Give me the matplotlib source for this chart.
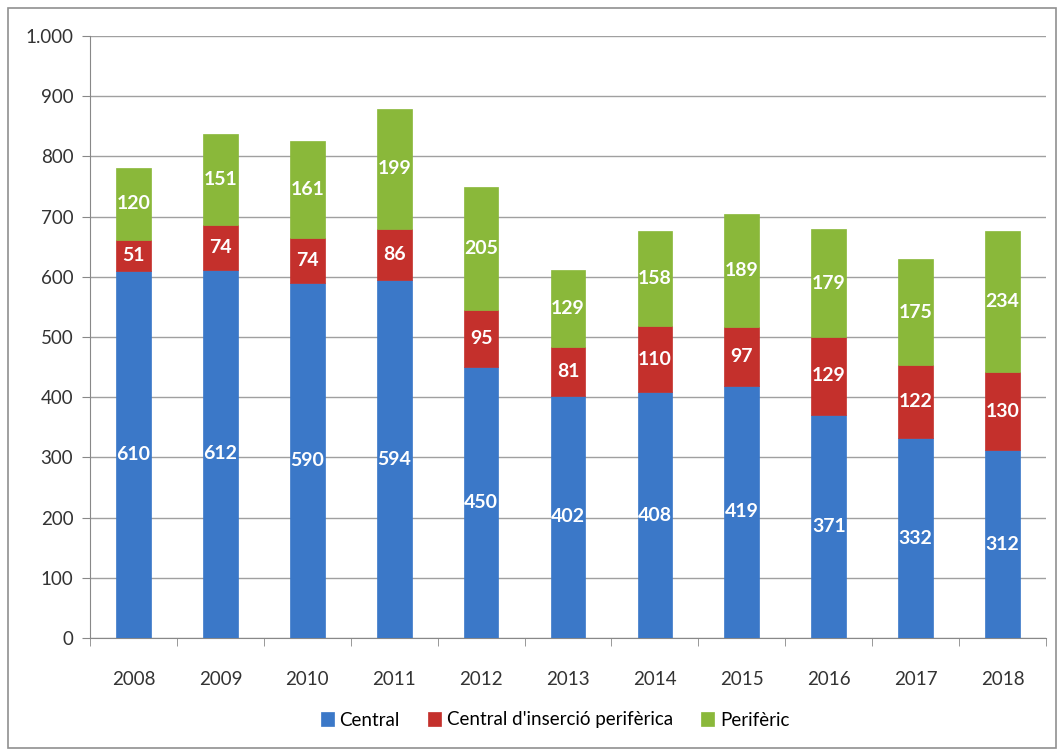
import matplotlib
matplotlib.use("Agg")
import matplotlib.pyplot as plt
from matplotlib.patches import Rectangle
from matplotlib.ticker import FuncFormatter, FixedLocator
import numpy as np

years = ["2008", "2009", "2010", "2011", "2012", "2013", "2014", "2015", "2016", "2017", "2018"]
central = [610, 612, 590, 594, 450, 402, 408, 419, 371, 332, 312]
central_ins = [51, 74, 74, 86, 95, 81, 110, 97, 129, 122, 130]
periferic = [120, 151, 161, 199, 205, 129, 158, 189, 179, 175, 234]
series_names = ["Central", "Central d'inserció perifèrica", "Perifèric"]
colors = ["#3b78c8", "#c4302c", "#8ab83a"]

plt.rcParams['font.family'] = ['Lato', 'DejaVu Sans']

fig = plt.figure(figsize=(10.64, 7.56), dpi=100)
ax = fig.add_axes([90/1064, 1-638/756, (1046-90)/1064, (638-36)/756])

x = np.arange(len(years))
w = 0.40
bottom = np.zeros(len(years))
for vals, name, c in zip([central, central_ins, periferic], series_names, colors):
    ax.bar(x, vals, w, bottom=bottom, color=c, label=name,
           edgecolor=c, linewidth=0.5, zorder=3)
    for xi, b, v in zip(x, bottom, vals):
        ax.text(xi, b + v/2, str(v), ha='center', va='center', color='white',
                fontsize=14, fontweight='bold', zorder=4)
    bottom += np.array(vals)

ax.set_xlim(-0.5, len(years) - 0.5)
ax.set_ylim(0, 1000)
ax.set_yticks(np.arange(0, 1001, 100))
ax.yaxis.set_major_formatter(FuncFormatter(lambda v, p: f"{int(v):,}".replace(",", ".")))
ax.grid(axis='y', color='#a0a0a0', linewidth=1, zorder=0)
ax.set_xticks(x)
ax.set_xticklabels(years)
ax.xaxis.set_minor_locator(FixedLocator(np.arange(-0.5, len(years), 1)))
ax.tick_params(axis='x', which='major', length=0, pad=24, labelsize=13.5, colors='#333333')
ax.tick_params(axis='x', which='minor', length=6, color='#888888')
ax.tick_params(axis='y', length=6, color='#888888', labelsize=13.5, colors='#333333', pad=6)
for s in ['top', 'right']:
    ax.spines[s].set_visible(False)
ax.spines['left'].set_color('#888888')
ax.spines['bottom'].set_color('#888888')

fig.legend(loc='center', bbox_to_anchor=(555/1064, 1-720/756), ncol=3, frameon=False,
           fontsize=13.5, handlelength=0.7, handleheight=0.7, handletextpad=0.3, columnspacing=1.5)

fig.patches.append(Rectangle((8/1064, 8/756), 1048/1064, 740/756, transform=fig.transFigure,
                             fill=False, edgecolor='#909090', linewidth=1.2))

fig.savefig("out.png", dpi=100, facecolor='white')
